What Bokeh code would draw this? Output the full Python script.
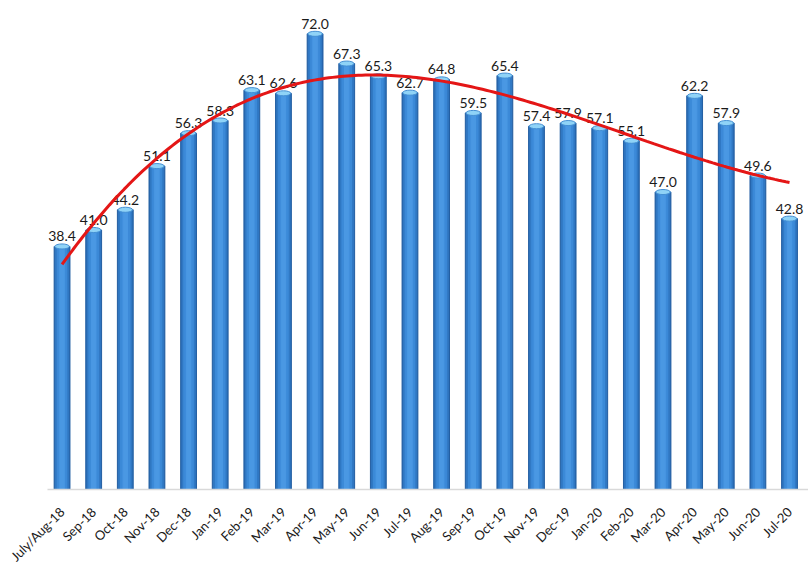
import numpy as np
from bokeh.plotting import figure
from bokeh.models import ColumnDataSource, FixedTicker
from bokeh.embed import file_html
from bokeh.resources import INLINE
from bokeh.core.properties import value

months = ["July/Aug-18", "Sep-18", "Oct-18", "Nov-18", "Dec-18", "Jan-19", "Feb-19",
          "Mar-19", "Apr-19", "May-19", "Jun-19", "Jul-19", "Aug-19", "Sep-19",
          "Oct-19", "Nov-19", "Dec-19", "Jan-20", "Feb-20", "Mar-20", "Apr-20",
          "May-20", "Jun-20", "Jul-20"]
values = [38.4, 41.0, 44.2, 51.1, 56.3, 58.3, 63.1, 62.6, 72.0, 67.3, 65.3, 62.7,
          64.8, 59.5, 65.4, 57.4, 57.9, 57.1, 55.1, 47.0, 62.2, 57.9, 49.6, 42.8]
trend_degree = 3  # polynomial trendline order (least squares on the series)

x = np.arange(len(values))
src = ColumnDataSource(dict(x=x, top=values, label=[f"{v:.1f}" for v in values]))

p = figure(frame_width=761, frame_height=481, output_backend="svg", toolbar_location=None,
           x_range=(-0.46, 23.6), y_range=(0, 76.0),
           min_border_left=47, min_border_right=0, min_border_top=8, min_border_bottom=0)
p.outline_line_color = None
p.grid.visible = False
p.yaxis.visible = False
p.background_fill_color = "white"
p.border_fill_color = "white"

# cylinder-like bars: dark edges, lighter centre
p.vbar(x="x", top="top", width=0.5, source=src, color="#235fa3")
p.vbar(x="x", top="top", width=0.42, source=src, color="#3179c4")
p.vbar(x="x", top="top", width=0.30, source=src, color="#3c8ad8")
p.vbar(x="x", top="top", width=0.14, source=src, color="#4a98e3")
p.ellipse(x="x", y="top", width=0.46, height=0.8, source=src,
          fill_color="#8fd3f7", line_color="#4590d4", line_width=1)

p.text(x="x", y="top", text="label", source=src, y_offset=-10, text_align="center",
       text_baseline="alphabetic", text_font=value("Lato"), text_font_size="14px",
       text_color="#1a1a1a")

coef = np.polyfit(x, values, trend_degree)
xs = np.linspace(x[0], x[-1], 200)
p.line(xs, np.polyval(coef, xs), line_color="#e41616", line_width=3)

p.xaxis.ticker = FixedTicker(ticks=list(x))
p.xaxis.major_label_overrides = {int(i): m for i, m in zip(x, months)}
p.xaxis.major_label_orientation = np.pi / 4
p.xaxis.major_label_text_font = "Lato"
p.xaxis.major_label_text_font_size = "13px"
p.xaxis.major_label_text_color = "#1a1a1a"
p.xaxis.major_tick_line_color = None
p.xaxis.minor_tick_line_color = None
p.xaxis.axis_line_color = "#d9d9d9"
p.xaxis.axis_line_width = 1.5
p.xaxis.major_label_standoff = 14

open("out.html", "w").write(file_html(p, INLINE))
